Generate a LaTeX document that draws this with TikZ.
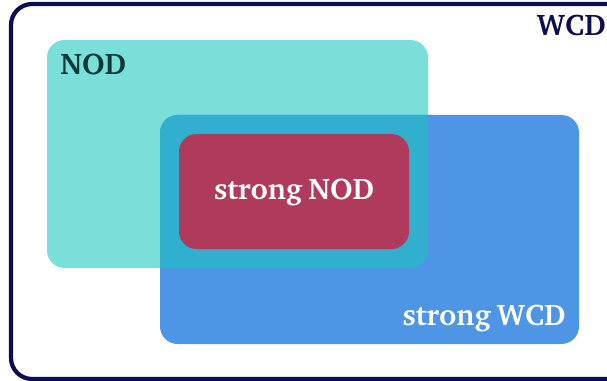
\documentclass[tikz,border=0pt]{standalone}
\usepackage[T1]{fontenc}
\usepackage{charter}
\usepackage{tikz}

\definecolor{navy}{RGB}{13,13,80}
\definecolor{nodteal}{RGB}{123,223,217}
\definecolor{wcdblue}{RGB}{78,149,230}
\definecolor{mixblue}{RGB}{48,176,206}
\definecolor{snodred}{RGB}{176,58,91}
\definecolor{darkteal}{RGB}{8,58,56}

\begin{document}
\begin{tikzpicture}[x=0.02cm,y=-0.02cm,
	lbl/.style={font={\fontsize{17}{20}\selectfont\bfseries\spaceskip=0.2em\relax}, inner sep=0pt}]
	
	\useasboundingbox (0, 0) rectangle (607, 381);
	
	\draw[navy, line width=2.4pt, rounded corners=12] (11, 4) rectangle (640, 379);
	
	\fill[nodteal, rounded corners=10] (47, 40) rectangle (428, 268);
	\fill[wcdblue, rounded corners=10] (160, 115) rectangle (579, 344);
	\begin{scope}
		\clip[rounded corners=10] (47, 40) rectangle (428, 268);
		\fill[mixblue, rounded corners=10] (160, 115) rectangle (579, 344);
	\end{scope}
	\fill[snodred, rounded corners=10] (179, 134) rectangle (409, 249);
	
	\node[lbl, text=navy, anchor=east] (wcd) at (606, 25) 	 {WCD};
	\node[lbl, text=darkteal, anchor=west] (nod) at (60, 64) 	 {NOD};
	\node[lbl, text=white] (snod) at (294, 192) 	 {strong NOD};
	\node[lbl, text=white, anchor=east] (swcd) at (566, 318) 	 {strong WCD};

\end{tikzpicture}
\end{document}
